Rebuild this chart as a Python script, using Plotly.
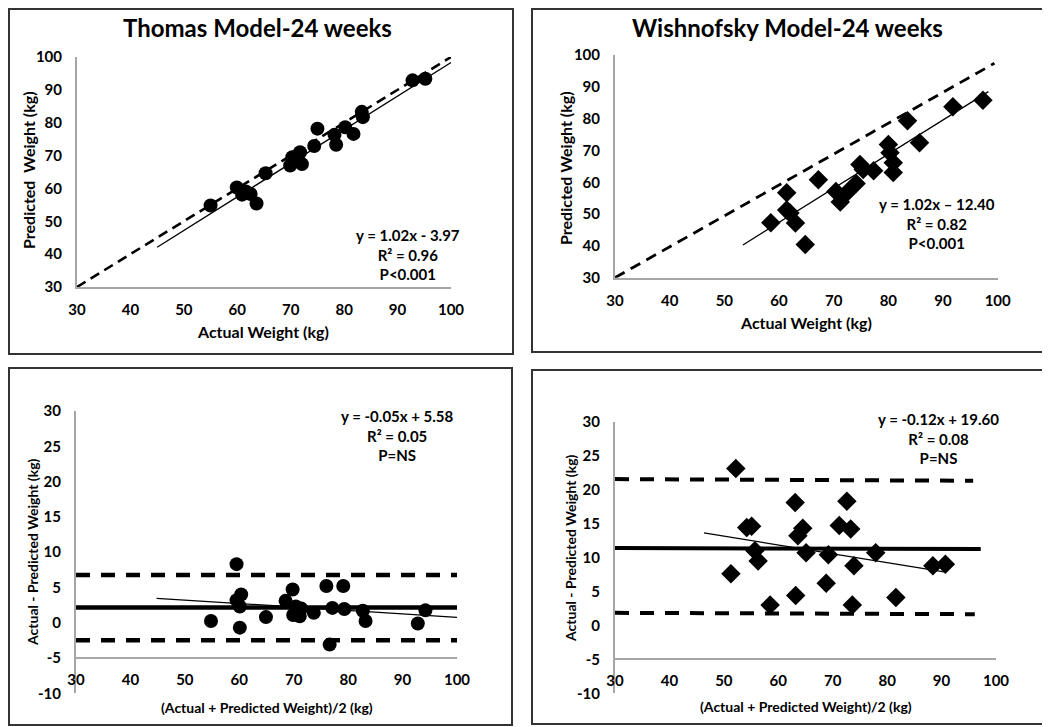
import plotly.graph_objects as go

W, H = 1050, 727
OFF = 8  # the page body adds an 8px margin; compensate so marks land where the reference has them

# ---------------- data ----------------
thomas_actual = [55.0, 59.9, 60.9, 61.6, 62.5, 63.6, 65.3, 69.9, 70.3, 71.1, 71.75,
                 72.1, 74.4, 75.0, 78.2, 78.5, 80.2, 81.75, 83.3, 83.5, 92.8, 95.2]
thomas_pred = [54.8, 60.3, 58.1, 59.1, 58.3, 55.4, 64.6, 67.0, 69.5, 69.8, 71.0,
               67.4, 72.9, 78.2, 76.3, 73.3, 78.6, 76.6, 83.3, 81.7, 92.9, 93.4]
thomas_fit_x = [45, 100]
thomas_fit_y = [42.1, 98.3]
thomas_ident_x = [30, 100]
thomas_ident_y = [30, 100]

wish_actual = [58.5, 61.4, 61.4, 62.0, 63.0, 64.8, 67.2, 70.4, 71.2, 72.4, 74.1,
               74.8, 75.4, 77.3, 80.0, 80.3, 80.9, 80.9, 83.5, 85.7, 91.8, 97.3]
wish_pred = [47.3, 56.7, 51.3, 50.3, 47.2, 40.4, 60.8, 57.1, 53.8, 56.7, 59.6,
             65.6, 64.0, 63.6, 71.9, 69.3, 66.1, 63.1, 79.3, 72.4, 83.7, 85.8]
wish_fit_x = [53.4, 98.3]
wish_fit_y = [40.3, 88.5]
wish_ident_x = [30, 99.4]
wish_ident_y = [30, 97.4]

ba_thomas_mean = [54.8, 59.5, 59.5, 60.35, 60.1, 60.1, 64.9, 68.5, 69.8, 69.9, 70.4, 71.1,
                  71.4, 73.7, 76.0, 76.6, 77.1, 79.1, 79.3, 82.7, 83.2, 92.8, 94.2]
ba_thomas_diff = [0.25, 8.3, 3.2, 4.0, 2.3, -0.7, 0.8, 3.1, 4.7, 1.1, 2.3, 0.9,
                  2.0, 1.4, 5.2, -3.1, 2.1, 5.2, 1.95, 1.7, 0.25, -0.1, 1.75]
ba_thomas_line_x = [30, 100]
ba_thomas_bias = [2.14, 2.14]
ba_thomas_upper = [6.77, 6.77]
ba_thomas_lower = [-2.49, -2.49]
ba_thomas_fit_x = [44.8, 100]
ba_thomas_fit_y = [3.46, 0.77]

ba_wish_mean = [51.3, 52.2, 54.2, 55.1, 55.7, 56.3, 58.5, 63.1, 63.2, 63.6, 64.5, 65.1,
                68.8, 69.2, 71.2, 72.6, 73.3, 73.6, 73.9, 77.9, 81.6, 88.4, 90.7]
ba_wish_diff = [7.6, 23.1, 14.4, 14.6, 11.0, 9.5, 3.0, 18.1, 4.4, 13.2, 14.3, 10.7,
                6.2, 10.4, 14.7, 18.3, 14.2, 3.0, 8.8, 10.7, 4.1, 8.8, 9.0]
ba_wish_bias_x = [30, 97.2]
ba_wish_bias = [11.4, 11.25]
ba_wish_upper_x = [30, 95.8]
ba_wish_upper = [21.55, 21.3]
ba_wish_lower_x = [30, 96.1]
ba_wish_lower = [1.85, 1.65]
ba_wish_fit_x = [46.35, 90.75]
ba_wish_fit_y = [13.63, 7.84]

x_ticks = [30, 40, 50, 60, 70, 80, 90, 100]
y_ticks_top = [30, 40, 50, 60, 70, 80, 90, 100]
y_ticks_bottom = [-10, -5, 0, 5, 10, 15, 20, 25, 30]

titles = ["Thomas Model-24 weeks", "Wishnofsky Model-24 weeks"]
eq_texts = ["y = 1.02x - 3.97<br>R² = 0.96<br>P<0.001",
            "y = 1.02x – 12.40<br>R² = 0.82<br>P<0.001",
            "y = -0.05x + 5.58<br>R² = 0.05<br>P=NS",
            "y = -0.12x + 19.60<br>R² = 0.08<br>P=NS"]

FONT = "Lato"


def px(x):
    return max(x - OFF, 1) / W


def py(y):
    return 1 - max(y - OFF, 1) / H


fig = go.Figure()


# ---------------- traces ----------------
def add_line(x, y, axes, width, dash="solid"):
    fig.add_trace(go.Scatter(x=x, y=y, mode="lines", xaxis=axes[0], yaxis=axes[1],
                             line=dict(color="black", width=width, dash=dash),
                             showlegend=False, hoverinfo="skip"))


def add_pts(x, y, axes, symbol, size):
    fig.add_trace(go.Scatter(x=x, y=y, mode="markers", xaxis=axes[0], yaxis=axes[1],
                             marker=dict(symbol=symbol, size=size, color="black",
                                         line=dict(width=0)),
                             showlegend=False))


A1, A2, A3, A4 = ("x", "y"), ("x2", "y2"), ("x3", "y3"), ("x4", "y4")

add_line(thomas_ident_x, thomas_ident_y, A1, 2.6, "10px,6px")
add_line(thomas_fit_x, thomas_fit_y, A1, 1.3)
add_pts(thomas_actual, thomas_pred, A1, "circle", 14)

add_line(wish_ident_x, wish_ident_y, A2, 2.8, "11px,7px")
add_line(wish_fit_x, wish_fit_y, A2, 1.3)
add_pts(wish_actual, wish_pred, A2, "diamond", 15)

add_line(ba_thomas_line_x, ba_thomas_upper, A3, 4.5, "14px,11px")
add_line(ba_thomas_line_x, ba_thomas_lower, A3, 4.5, "14px,11px")
add_line(ba_thomas_line_x, ba_thomas_bias, A3, 4.5)
add_line(ba_thomas_fit_x, ba_thomas_fit_y, A3, 1.2)
add_pts(ba_thomas_mean, ba_thomas_diff, A3, "circle", 14)

add_line(ba_wish_upper_x, ba_wish_upper, A4, 4, "14px,11px")
add_line(ba_wish_lower_x, ba_wish_lower, A4, 4, "14px,11px")
add_line(ba_wish_bias_x, ba_wish_bias, A4, 4)
add_line(ba_wish_fit_x, ba_wish_fit_y, A4, 1.2)
add_pts(ba_wish_mean, ba_wish_diff, A4, "diamond", 15)

# ---------------- axes ----------------
tickfont = dict(family=FONT, size=15, color="black", weight="bold")
axcol = "#a6a6a6"


def bold_ticks(vals):
    return ["<b>%d</b>" % v for v in vals]


def xa(dom, anchor, **kw):
    d = dict(domain=dom, range=[30, 100], tickvals=x_ticks, ticktext=bold_ticks(x_ticks),
             showgrid=False, zeroline=False, automargin=False,
             showline=True, linecolor=axcol, linewidth=2, ticks="", tickfont=tickfont,
             ticklabelstandoff=8, fixedrange=True, anchor=anchor)
    d.update(kw)
    return d


def ya(dom, anchor, rng, ticks):
    return dict(domain=dom, anchor=anchor, range=rng, tickvals=ticks,
                ticktext=bold_ticks(ticks), showgrid=False, automargin=False,
                zeroline=False, showline=True, linecolor=axcol, linewidth=2, ticks="",
                tickfont=tickfont, ticklabelstandoff=10, fixedrange=True)


p1x = [px(77), px(451)]
p1y = [py(287), py(57)]
p2x = [px(615), px(997.7)]
p2y = [py(277.7), py(55)]
p3x = [px(76), px(457)]
p3y = [py(693.3), py(411)]
p4x = [px(615), px(996)]
p4y = [py(693.3), py(421.7)]

# x-axis of the Bland-Altman plots crosses at y = -5
pos3 = p3y[0] + (p3y[1] - p3y[0]) * (5 / 40)
pos4 = p4y[0] + (p4y[1] - p4y[0]) * (5 / 40)

fig.update_layout(
    xaxis=xa(p1x, "y"),
    yaxis=ya(p1y, "x", [30, 100], y_ticks_top),
    xaxis2=xa(p2x, "y2"),
    yaxis2=ya(p2y, "x2", [30, 100], y_ticks_top),
    xaxis3=xa(p3x, "free", position=pos3),
    yaxis3=ya(p3y, "x3", [-10, 30], y_ticks_bottom),
    xaxis4=xa(p4x, "free", position=pos4),
    yaxis4=ya(p4y, "x4", [-10, 30], y_ticks_bottom),
)

# ---------------- text ----------------
ann = []


def text(x, y, t, size, angle=0):
    ann.append(dict(x=px(x), y=py(y), xref="paper", yref="paper", text=t, showarrow=False,
                    xanchor="center", yanchor="middle", textangle=angle, align="center",
                    font=dict(family=FONT, size=size, color="black", weight="bold")))


text(257, 28, "<b>%s</b>" % titles[0], 24)
text(787, 28, "<b>%s</b>" % titles[1], 24)

text(408, 254, eq_texts[0], 15)
text(937, 223, eq_texts[1], 15)
text(397, 436, eq_texts[2], 15)
text(938, 438, eq_texts[3], 15)

text(263, 331, "Actual Weight (kg)", 16)
text(28, 170, "Predicted  Weight (kg)", 16, -90)
text(806, 322, "Actual Weight (kg)", 16)
text(565, 168, "Predicted Weight (kg)", 16, -90)
text(267, 707, "(Actual + Predicted Weight)/2 (kg)", 14)
text(32, 552, "Actual - Predicted Weight (kg)", 14, -90)
text(806, 706, "(Actual + Predicted Weight)/2 (kg)", 14)
text(570, 548, "Actual - Predicted Weight (kg)", 14, -90)

# ---------------- panel borders ----------------
boxes = [(2, 1, 513, 354), (532, 1, 1043, 352), (2, 368, 512, 725), (532, 370, 1044, 724)]
shapes = [dict(type="rect", xref="paper", yref="paper", x0=px(a), x1=px(c), y0=py(d), y1=py(b),
               line=dict(color="#333333", width=2), fillcolor="rgba(0,0,0,0)", layer="below")
          for a, b, c, d in boxes]

fig.update_layout(
    width=W, height=H, margin=dict(l=0, r=0, t=0, b=0, pad=0), autosize=False,
    paper_bgcolor="white", plot_bgcolor="white",
    annotations=ann, shapes=shapes, showlegend=False,
    font=dict(family=FONT, color="black"),
)

fig.write_html("out.html")
